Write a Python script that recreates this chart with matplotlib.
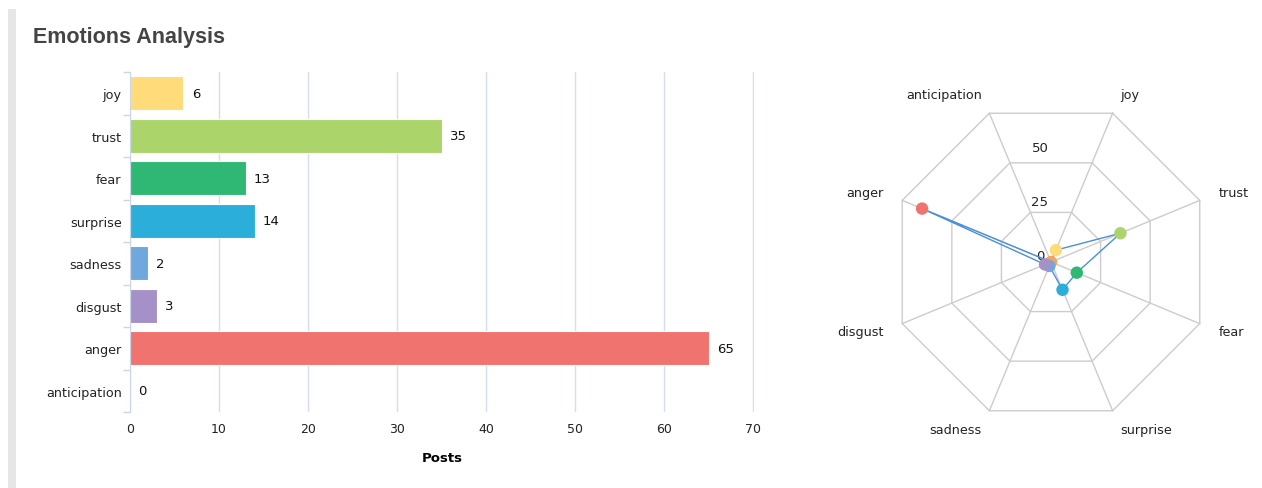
import numpy as np
import matplotlib
matplotlib.use('Agg')
import matplotlib.pyplot as plt
from matplotlib.patches import Rectangle

# Data
emotions = ['joy', 'trust', 'fear', 'surprise', 'sadness', 'disgust', 'anger', 'anticipation']
posts = [6, 35, 13, 14, 2, 3, 65, 0]
colors = ['#FFDB7A', '#ABD46B', '#2FB874', '#2BAED9', '#6FA8DC', '#A591C8', '#F1736F', '#F7A35C']
x_ticks = [0, 10, 20, 30, 40, 50, 60, 70]
radar_rings = [25, 50, 75]
radar_labels = [0, 25, 50]

W, H = 1262, 489
fig = plt.figure(figsize=(W / 100, H / 100), dpi=100)
fig.patch.set_facecolor('white')

# gray strip on the left
fig.patches.append(Rectangle((8 / W, 0), 8 / W, 1 - 10 / H, transform=fig.transFigure,
                             facecolor='#e6e6e6', edgecolor='none'))
fig.text(33 / W, 1 - 37 / H, 'Emotions Analysis', fontsize=15.5, fontweight='bold',
         color='#444444', va='center', ha='left', family='Liberation Sans')

# ---- bar chart ----
ax = fig.add_axes([130 / W, 1 - 413 / H, 624 / W, 340 / H])
y = np.arange(len(emotions))
ax.barh(y, posts, height=0.79, color=colors, edgecolor='white', linewidth=0.8, zorder=3)
ax.set_xlim(0, 70.1)
ax.set_ylim(len(emotions) - 0.5, -0.5)
ax.set_xticks(x_ticks)
ax.set_xticklabels([str(t) for t in x_ticks], fontsize=9, color='#222222')
ax.tick_params(axis='x', length=0, pad=7)
ax.set_yticks(y)
ax.set_yticklabels(emotions, fontsize=9.2, color='#222222')
ax.tick_params(axis='y', which='major', length=0, pad=6)
ax.set_yticks(np.arange(len(emotions) + 1) - 0.5, minor=True)
ax.tick_params(axis='y', which='minor', length=5, color='#ccd6eb', width=1)
ax.grid(axis='x', color='#d5ddf0', linewidth=1, zorder=0)
for s in ['top', 'right', 'bottom']:
    ax.spines[s].set_visible(False)
ax.spines['left'].set_color('#ccd6eb')
ax.spines['left'].set_zorder(4)
ax.set_xlabel('Posts', fontsize=9.5, fontweight='bold', labelpad=12)
for yi, v in zip(y, posts):
    ax.annotate(str(v), (v, yi), xytext=(6, 0), textcoords='offset points',
                va='center', ha='left', fontsize=9.5, color='#111111')

# ---- radar chart ----
R = 161  # px for the outer ring
half = 200
rmax = radar_rings[-1]
lim = rmax * half / R
rx = fig.add_axes([(1051 - half) / W, (H - 263 - half) / H, 2 * half / W, 2 * half / H])
rx.set_xlim(-lim, lim)
rx.set_ylim(-lim, lim)
rx.axis('off')

n = len(emotions)
ang = np.deg2rad(22.5 + 45 * np.arange(n))
ux, uy = np.sin(ang), np.cos(ang)

for r in radar_rings:
    rx.plot(np.append(ux, ux[0]) * r, np.append(uy, uy[0]) * r, color='#cccccc', lw=1, zorder=1)
for a, b in zip(ux, uy):
    rx.plot([0, a * rmax], [0, b * rmax], color='#cccccc', lw=1, zorder=1)

px_unit = rmax / R
for lab, a, b in zip(emotions, ux, uy):
    rr = rmax + 20 * px_unit
    rx.text(a * rr, b * rr, lab, fontsize=9.2, color='#222222', va='center',
            ha='left' if a > 0 else 'right')

for v in radar_labels:
    rx.text(-11 * px_unit, v + 7 * px_unit, str(v), fontsize=9.5, color='#222222',
            ha='center', va='center', zorder=2)

vals = np.array(posts, dtype=float)
rx.plot(np.append(ux * vals, ux[0] * vals[0]), np.append(uy * vals, uy[0] * vals[0]),
        color='#4a8fdc', lw=1, zorder=3)
order = [7, 0, 1, 2, 3, 4, 5, 6]
for i in order:
    rx.scatter(ux[i] * vals[i], uy[i] * vals[i], s=80, color=colors[i], zorder=4,
               edgecolors='none')

plt.savefig('out.png', dpi=100)
